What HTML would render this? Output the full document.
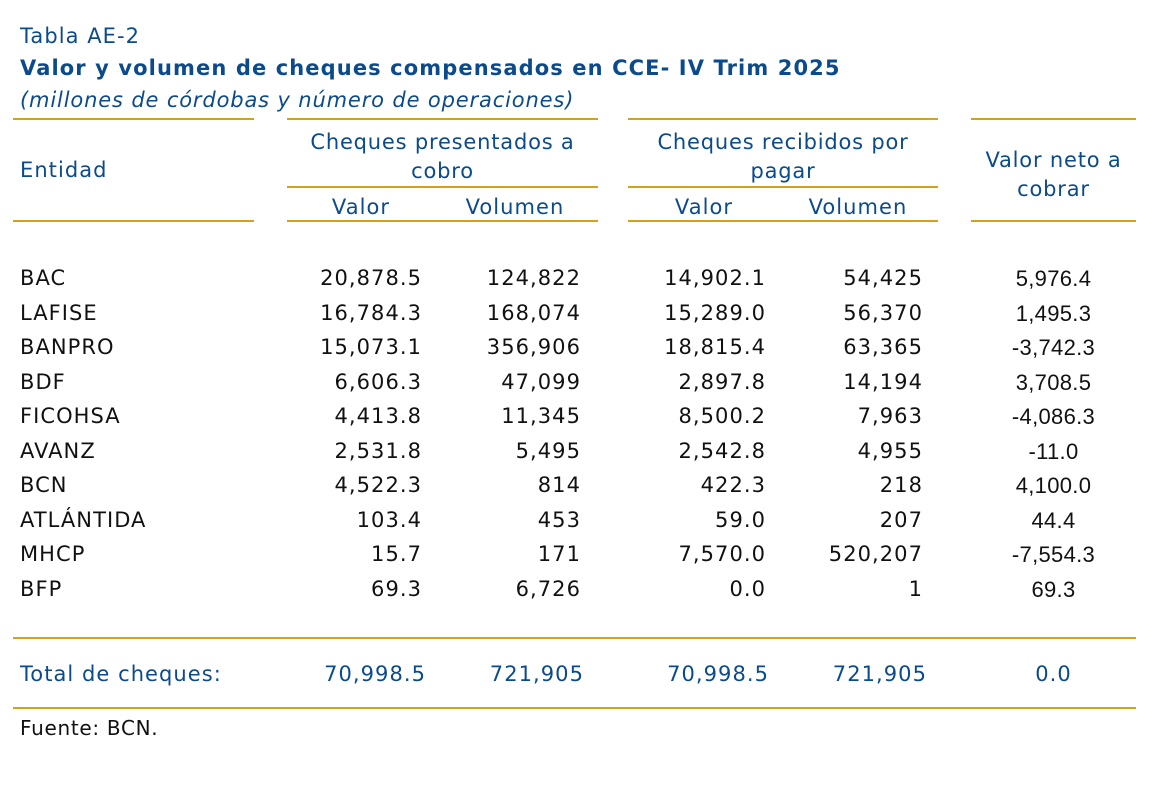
<!DOCTYPE html>
<html><head><meta charset="utf-8"><style>
body{margin:0;width:1174px;height:788px;background:#fff;position:relative;overflow:hidden;font-family:"DejaVu Sans","Liberation Sans",sans-serif;color:#111;letter-spacing:1.05px}
.a{position:absolute;white-space:nowrap;line-height:1;}
.b{color:#0b4a8b}
.l{position:absolute;height:2px;background:#d4a21a}
.r{text-align:right}
.c{text-align:center}
.n{font-family:"Liberation Sans",sans-serif;font-size:22px !important;letter-spacing:0.3px}
.f{font-size:21px}
</style></head><body>
<div class="a b f" style="left:20px;top:26px">Tabla AE-2</div>
<div class="a b f" style="left:20px;top:58px;font-weight:bold;letter-spacing:1.1px">Valor y volumen de cheques compensados en CCE- IV Trim 2025</div>
<div class="a b f" style="left:20px;top:90px;font-style:italic;letter-spacing:0.85px">(millones de córdobas y número de operaciones)</div>
<div class="l" style="left:13px;width:241px;top:118px"></div>
<div class="l" style="left:287px;width:311px;top:118px"></div>
<div class="l" style="left:628px;width:310px;top:118px"></div>
<div class="l" style="left:971px;width:165px;top:118px"></div>
<div class="l" style="left:287px;width:311px;top:186px"></div>
<div class="l" style="left:628px;width:310px;top:186px"></div>
<div class="l" style="left:13px;width:241px;top:220px"></div>
<div class="l" style="left:287px;width:311px;top:220px"></div>
<div class="l" style="left:628px;width:310px;top:220px"></div>
<div class="l" style="left:971px;width:165px;top:220px"></div>
<div class="a b f" style="left:20px;top:160px">Entidad</div>
<div class="a b c f" style="left:287px;width:311px;top:128px;line-height:29px;letter-spacing:0.8px">Cheques presentados a<br>cobro</div>
<div class="a b c f" style="left:628px;width:310px;top:128px;line-height:29px;letter-spacing:0.8px">Cheques recibidos por<br>pagar</div>
<div class="a b c f" style="left:971px;width:165px;top:146px;line-height:29px;letter-spacing:0.8px">Valor neto a<br>cobrar</div>
<div class="a b c f" style="left:300px;width:122px;top:197px">Valor</div>
<div class="a b c f" style="left:450px;width:130px;top:197px">Volumen</div>
<div class="a b c f" style="left:643px;width:122px;top:197px">Valor</div>
<div class="a b c f" style="left:793px;width:130px;top:197px">Volumen</div>
<div id="rows"></div>
<div class="l" style="left:13px;width:1123px;top:637px"></div>
<div class="a b f" style="left:20px;top:664px">Total de cheques:</div>
<div class="a b r f" style="left:300px;width:126px;top:664px">70,998.5</div>
<div class="a b r f" style="left:450px;width:134px;top:664px">721,905</div>
<div class="a b r f" style="left:643px;width:126px;top:664px">70,998.5</div>
<div class="a b r f" style="left:793px;width:134px;top:664px">721,905</div>
<div class="a b c f" style="left:971px;width:165px;top:664px">0.0</div>
<div class="l" style="left:13px;width:1123px;top:707px"></div>
<div class="a" style="left:20px;top:718px;font-size:20px;letter-spacing:0.7px">Fuente: BCN.</div>
<script>
var d=[["BAC","20,878.5","124,822","14,902.1","54,425","5,976.4"],["LAFISE","16,784.3","168,074","15,289.0","56,370","1,495.3"],["BANPRO","15,073.1","356,906","18,815.4","63,365","-3,742.3"],["BDF","6,606.3","47,099","2,897.8","14,194","3,708.5"],["FICOHSA","4,413.8","11,345","8,500.2","7,963","-4,086.3"],["AVANZ","2,531.8","5,495","2,542.8","4,955","-11.0"],["BCN","4,522.3","814","422.3","218","4,100.0"],["ATLÁNTIDA","103.4","453","59.0","207","44.4"],["MHCP","15.7","171","7,570.0","520,207","-7,554.3"],["BFP","69.3","6,726","0.0","1","69.3"]];
var h="";d.forEach(function(r,i){var t=268+i*34.5;
h+='<div class="a f" style="left:20px;top:'+t+'px">'+r[0]+'</div>';
h+='<div class="a r f" style="left:300px;width:122px;top:'+t+'px">'+r[1]+'</div>';
h+='<div class="a r f" style="left:450px;width:131px;top:'+t+'px">'+r[2]+'</div>';
h+='<div class="a r f" style="left:643px;width:123px;top:'+t+'px">'+r[3]+'</div>';
h+='<div class="a r f" style="left:793px;width:130px;top:'+t+'px">'+r[4]+'</div>';
h+='<div class="a c n" style="left:971px;width:165px;top:'+t+'px">'+r[5]+'</div>';});
document.getElementById("rows").innerHTML=h;
</script>
</body></html>
